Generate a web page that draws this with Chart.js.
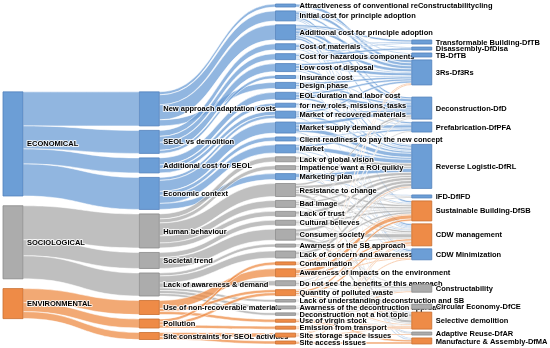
<!DOCTYPE html>
<html>
<head>
<meta charset="utf-8">
<script src="https://cdn.jsdelivr.net/npm/chart.js@4.4.1/dist/chart.umd.min.js"></script>
<style>
  html, body { margin: 0; padding: 0; background: #fff; }
</style>
</head>
<body>
<canvas id="chart" width="550" height="348"></canvas>
<script>
// ---- data -------------------------------------------------------------
const pillars = ['ECONOMICAL', 'SOCIOLOGICAL', 'ENVIRONMENTAL'];

const factors = [
    'New approach adaptation costs', 'SEOL vs demolition', 'Additional cost for SEOL', 'Economic context',
    'Human behaviour', 'Societal trend', 'Lack of awareness & demand',
    'Use of non-recoverable materials', 'Pollution', 'Site constraints for SEOL activities'
];
const factorPillar = [
    'ECONOMICAL', 'ECONOMICAL', 'ECONOMICAL', 'ECONOMICAL',
    'SOCIOLOGICAL', 'SOCIOLOGICAL', 'SOCIOLOGICAL',
    'ENVIRONMENTAL', 'ENVIRONMENTAL', 'ENVIRONMENTAL'
];

const barriers = [
    'Attractiveness of conventional reConstructabilitycling', 'Initial cost for principle adoption',
    'Additional cost for principle adoption', 'Cost of materials', 'Cost for hazardous components',
    'Low cost of disposal', 'Insurance cost', 'Design phase', 'EOL duration and labor cost',
    'for new roles, missions, tasks', 'Market of recovered materials', 'Market supply demand',
    'Client readiness to pay the new concept', 'Market', 'Lack of global vision',
    'Impatience want a ROI quikly', 'Marketing plan', 'Resistance to change', 'Bad image',
    'Lack of trust', 'Cultural believes', 'Consumer society', 'Awarness of the SB approach',
    'Lack of concern and awareness', 'Contamination', 'Awareness of impacts on the environment',
    'Do not see the benefits of this approach', 'Quantity of polluted waste',
    'Lack of understanding deconstruction and SB', 'Awarness of the decontruction approach',
    'Deconstruction not a hot topic', 'Use of virgin stock', 'Emission from transport',
    'Site storage space issues', 'Site access issues'
];

// factor -> [barrier index, value]
const factorFlows = [
    [[0, 3], [1, 10], [2, 15], [7, 6]],
    [[3, 6], [4, 6], [5, 8], [6, 3]],
    [[8, 7], [9, 4], [10, 4]],
    [[10, 3], [11, 11], [12, 4], [13, 8], [16, 6]],
    [[14, 5], [15, 4], [17, 13], [18, 7], [19, 5]],
    [[20, 5], [21, 11]],
    [[22, 3], [23, 7], [26, 5], [28, 2.5], [29, 3], [30, 2.5]],
    [[25, 8], [27, 3], [31, 3]],
    [[24, 3], [27, 3], [32, 3]],
    [[33, 4], [34, 3]]
];

const strategies = [
    'Transformable Building-DfTB', 'Disassembly-DfDisa', 'TB-DfTB', '3Rs-Df3Rs', 'Deconstruction-DfD',
    'Prefabrication-DfPFA', 'Reverse Logistic-DfRL', 'IFD-DfIFD', 'Sustainable Building-DfSB',
    'CDW management', 'CDW Minimization', 'Constructability', 'Circular Economy-DfCE',
    'Selective demolition', 'Adaptive Reuse-DfAR', 'Manufacture & Assembly-DfMA'
];
const strategyCodes = ['DfTB', 'DfDisa', 'TB', 'Df3Rs', 'DfD', 'DfPFA', 'DfRL', 'DfIFD', 'DfSB',
    'CDWmgmt', 'CDWmin', 'Constr', 'DfCE', 'SelDem', 'DfAR', 'DfMA'];
const strategyGroups = [
    'ECONOMICAL', 'ECONOMICAL', 'ECONOMICAL', 'ECONOMICAL', 'ECONOMICAL', 'ECONOMICAL', 'ECONOMICAL', 'ECONOMICAL',
    'ENVIRONMENTAL', 'ENVIRONMENTAL', 'ECONOMICAL', 'SOCIOLOGICAL', 'SOCIOLOGICAL',
    'ENVIRONMENTAL', 'SOCIOLOGICAL', 'ENVIRONMENTAL'
];

// barrier (same order as barriers) -> strategy code: value
const barrierFlows = [
    { Df3Rs: 3 },
    { TB: 1, Df3Rs: 3, DfD: 2, DfSB: 2, DfMA: 1, CDWmin: 1 },
    { DfTB: 2, DfDisa: 1, Df3Rs: 3, DfD: 3, DfPFA: 2, CDWmgmt: 2, CDWmin: 2 },
    { DfTB: 1, Df3Rs: 3, CDWmgmt: 1, DfRL: 1 },
    { DfDisa: 2, DfTB: 1, TB: 1, Df3Rs: 1, CDWmin: 1 },
    { TB: 2, Df3Rs: 3, DfRL: 2, CDWmgmt: 1 },
    { Df3Rs: 1, DfD: 1, DfRL: 1 },
    { Df3Rs: 2, DfD: 2, DfPFA: 1, CDWmgmt: 1 },
    { Df3Rs: 2, DfD: 3, DfRL: 2 },
    { DfD: 2, DfRL: 1, CDWmin: 1 },
    { Df3Rs: 2, DfD: 2, DfRL: 2, DfMA: 1 },
    { DfD: 3, DfPFA: 3, DfRL: 4, SelDem: 1 },
    { DfPFA: 1, DfRL: 2, CDWmin: 1 },
    { DfPFA: 2, DfRL: 4, DfSB: 1, DfAR: 1 },
    { DfRL: 3, DfSB: 1, CDWmgmt: 1 },
    { DfRL: 2, SelDem: 1, DfAR: 1 },
    { DfRL: 4, DfIFD: 1, CDWmgmt: 1 },
    { DfD: 2, DfRL: 3, DfIFD: 1, DfSB: 2, CDWmgmt: 2, SelDem: 3 },
    { DfD: 1, DfRL: 2, DfSB: 2, CDWmgmt: 1, SelDem: 1 },
    { DfRL: 3, DfSB: 1, SelDem: 1 },
    { DfIFD: 1, DfSB: 2, CDWmin: 1, SelDem: 1 },
    { DfRL: 3, CDWmgmt: 4, Constr: 1, SelDem: 3 },
    { DfSB: 2, CDWmgmt: 1 },
    { DfPFA: 1, DfRL: 3, CDWmin: 1, Constr: 1, SelDem: 1 },
    { DfRL: 1, DfSB: 1, CDWmin: 1 },
    { Df3Rs: 1, DfSB: 4, CDWmgmt: 2, CDWmin: 1 },
    { DfRL: 1, CDWmgmt: 1, Constr: 2, DfCE: 1 },
    { Df3Rs: 1, DfSB: 2, CDWmgmt: 2, SelDem: 1 },
    { Constr: 1, DfCE: 1, SelDem: 0.5 },
    { DfD: 1, Constr: 1, DfCE: 1 },
    { Constr: 1, DfCE: 1, SelDem: 0.5 },
    { SelDem: 1, DfMA: 2 },
    { Constr: 1, DfCE: 1, SelDem: 1 },
    { CDWmgmt: 1, CDWmin: 1, DfAR: 1, SelDem: 1 },
    { CDWmgmt: 1, DfMA: 2 }
];

// ---- style ------------------------------------------------------------
const NODE_PAD = 3.9;    // gap between nodes, flow units
const NODE_W = 0.147;    // node width, column units
const LABEL_FONT = 'bold 7.5px "Liberation Sans", Arial, sans-serif';
const COLORS = {
    ECONOMICAL:    { fill: '#6c9ed6', line: '#5282bd', link: 'rgba(108,158,214,0.75)' },
    SOCIOLOGICAL:  { fill: '#acacac', line: '#8a8a8a', link: 'rgba(170,170,170,0.75)' },
    ENVIRONMENTAL: { fill: '#ee8b47', line: '#c96f30', link: 'rgba(238,140,70,0.75)' }
};

// ---- graph ------------------------------------------------------------
const nodes = [], links = [];
function addNode(name, col, group) {
    const n = { name, col, group, ins: [], outs: [] };
    nodes.push(n);
    return n;
}
function addLink(source, target, value) {
    const l = { source, target, value };
    source.outs.push(l);
    target.ins.push(l);
    links.push(l);
}
const sum = list => list.reduce((s, l) => s + l.value, 0);
const mid = n => (n.y0 + n.y1) / 2;

const pNodes = pillars.map(p => addNode(p, 0, p));
const fNodes = factors.map((f, i) => addNode(f, 1, factorPillar[i]));
const bNodes = barriers.map(b => addNode(b, 2, null));
const sNodes = strategies.map((s, i) => addNode(s, 3, strategyGroups[i]));

fNodes.forEach((f, i) => {
    const total = factorFlows[i].reduce((s, r) => s + r[1], 0);
    addLink(pNodes[pillars.indexOf(factorPillar[i])], f, total);
});
factorFlows.forEach((row, i) => row.forEach(([b, v]) => {
    addLink(fNodes[i], bNodes[b], v);
    bNodes[b].group = fNodes[i].group;
}));
barrierFlows.forEach((row, i) => Object.entries(row).forEach(([code, v]) => {
    addLink(bNodes[i], sNodes[strategyCodes.indexOf(code)], v);
}));
nodes.forEach(n => { n.value = Math.max(sum(n.ins), sum(n.outs)); });

// ---- layout (flow units) ----------------------------------------------
function stack(list, top, pad) {
    let y = top;
    list.forEach(n => { n.y0 = y; n.y1 = y + n.value; y = n.y1 + pad; });
    return y - pad;
}
const extent = stack(bNodes, 0, NODE_PAD);
const pad2 = NODE_PAD * 1.15;
const h2 = sum(fNodes) + pad2 * (fNodes.length - 1);
stack(fNodes, extent - pad2 - h2, pad2);
stack(pNodes, fNodes[0].y0, NODE_PAD * 2.5);

// strategies sit on the weighted centre of what flows in, then get pushed apart
const gap4 = NODE_PAD * 0.75;
let floor = 0;
sNodes.forEach(n => {
    const c = n.ins.reduce((s, l) => s + mid(l.source) * l.value, 0) / n.value;
    n.y0 = Math.max(c - n.value / 2, floor);
    n.y1 = n.y0 + n.value;
    floor = n.y1 + gap4;
});
let ceil = extent;
for (let i = sNodes.length - 1; i >= 0; i--) {
    const n = sNodes[i];
    if (n.y1 > ceil) { n.y0 -= n.y1 - ceil; n.y1 = ceil; }
    ceil = n.y0 - gap4;
}

nodes.forEach(n => {
    let y = n.y0;
    n.outs.slice().sort((a, b) => mid(a.target) - mid(b.target)).forEach(l => { l.sy = y; y += l.value; });
    y = n.y0;
    n.ins.slice().sort((a, b) => mid(a.source) - mid(b.source)).forEach(l => { l.ty = y; y += l.value; });
});

// ---- drawing ----------------------------------------------------------
const sankeyDraw = {
    id: 'sankeyDraw',
    afterDatasetsDraw(chart) {
        const ctx = chart.ctx, x = chart.scales.x, y = chart.scales.y;
        ctx.save();

        ctx.lineWidth = 0.6;
        ctx.strokeStyle = 'rgba(255,255,255,0.9)';
        links.forEach(l => {
            const xs = x.getPixelForValue(l.source.col + NODE_W);
            const xt = x.getPixelForValue(l.target.col);
            const xm = (xs + xt) / 2;
            const s0 = y.getPixelForValue(l.sy), s1 = y.getPixelForValue(l.sy + l.value);
            const t0 = y.getPixelForValue(l.ty), t1 = y.getPixelForValue(l.ty + l.value);
            ctx.beginPath();
            ctx.moveTo(xs, s0);
            ctx.bezierCurveTo(xm, s0, xm, t0, xt, t0);
            ctx.lineTo(xt, t1);
            ctx.bezierCurveTo(xm, t1, xm, s1, xs, s1);
            ctx.closePath();
            ctx.fillStyle = COLORS[l.source.group].link;
            ctx.fill();
            ctx.stroke();
        });

        ctx.font = LABEL_FONT;
        ctx.textBaseline = 'middle';
        ctx.lineJoin = 'round';
        [pNodes, fNodes, bNodes, sNodes].forEach(col => {
            col.forEach(n => {
                const x0 = x.getPixelForValue(n.col), x1 = x.getPixelForValue(n.col + NODE_W);
                const y0 = y.getPixelForValue(n.y0), y1 = y.getPixelForValue(n.y1);
                ctx.fillStyle = COLORS[n.group].fill;
                ctx.fillRect(x0, y0, x1 - x0, y1 - y0);
                ctx.lineWidth = 0.8;
                ctx.strokeStyle = COLORS[n.group].line;
                ctx.strokeRect(x0, y0, x1 - x0, y1 - y0);
            });
            col.forEach(n => {
                const tx = x.getPixelForValue(n.col + NODE_W) + 4;
                const ty = y.getPixelForValue(mid(n)) + 0.5;
                ctx.lineWidth = 2;
                ctx.strokeStyle = 'rgba(255,255,255,0.8)';
                ctx.strokeText(n.name, tx, ty);
                ctx.fillStyle = '#000';
                ctx.fillText(n.name, tx, ty);
            });
        });
        ctx.restore();
    }
};

new Chart(document.getElementById('chart'), {
    type: 'scatter',
    data: { datasets: [{ data: [] }] },
    options: {
        responsive: false,
        animation: false,
        layout: { padding: { left: 3, right: 2, top: 4, bottom: 4 } },
        scales: {
            x: { type: 'linear', min: 0, max: 4, display: false },
            y: { type: 'linear', min: 0, max: extent, reverse: true, display: false }
        },
        plugins: { legend: { display: false }, tooltip: { enabled: false } }
    },
    plugins: [sankeyDraw]
});
</script>
</body>
</html>
